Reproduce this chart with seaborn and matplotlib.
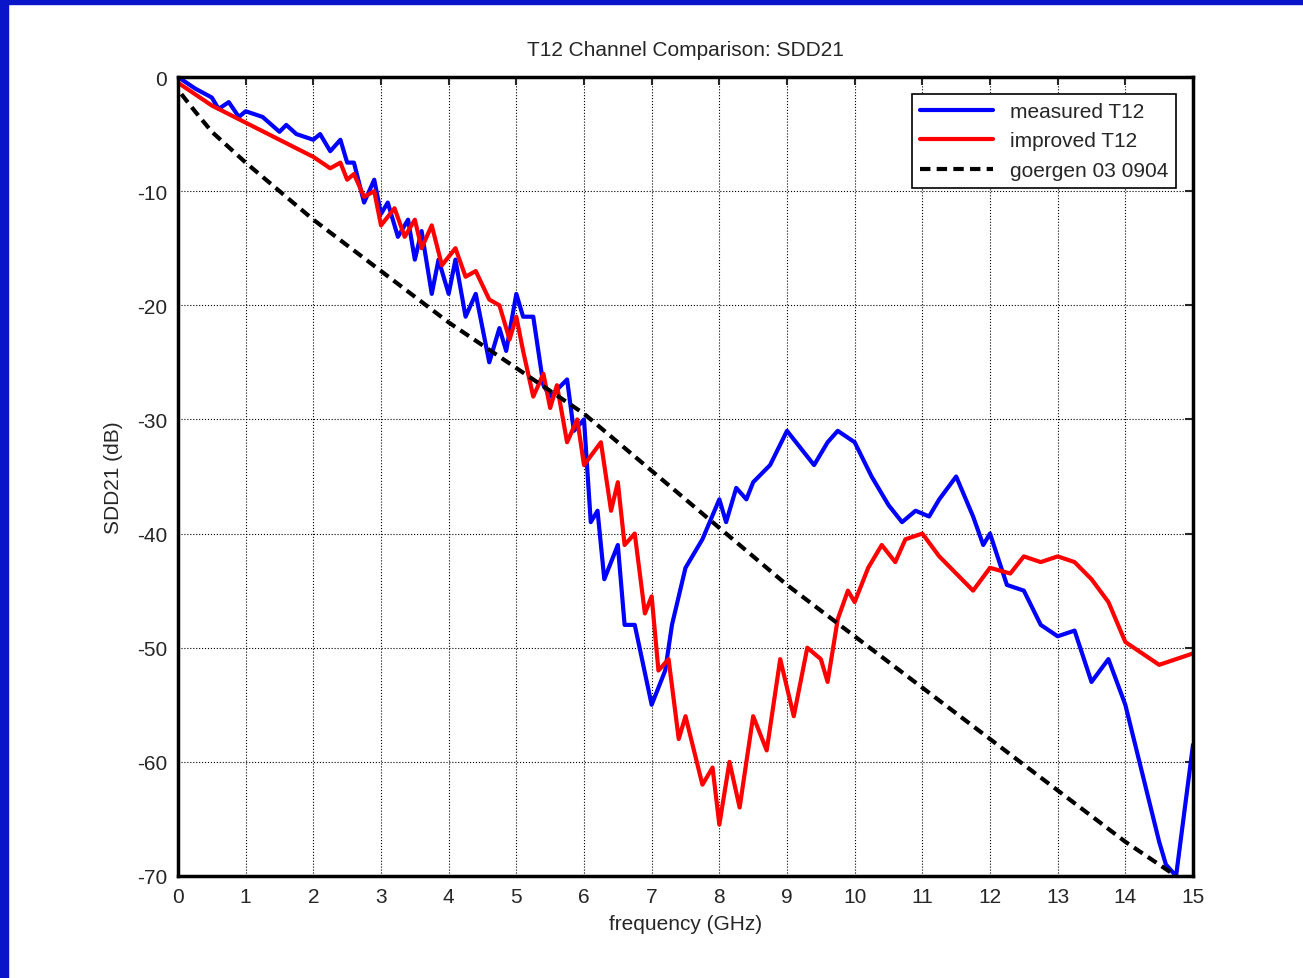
import matplotlib
matplotlib.use("Agg")
import matplotlib.pyplot as plt
import seaborn as sns
import pandas as pd
from matplotlib.patches import Rectangle

sns.set_style("white")
plt.rcParams['font.family'] = ['Liberation Sans', 'DejaVu Sans']
plt.rcParams['axes.unicode_minus'] = False

meas_f = [0,0.25,0.5,0.6,0.75,0.9,1.0,1.25,1.5,1.6,1.75,2,2.1,2.25,2.4,2.5,2.6,2.75,2.9,3.0,3.1,3.25,3.4,3.5,3.6,3.75,3.85,4.0,4.1,4.25,4.4,4.6,4.75,4.85,5.0,5.1,5.25,5.4,5.5,5.75,5.85,6.0,6.1,6.2,6.3,6.5,6.6,6.75,7.0,7.2,7.3,7.5,7.75,8.0,8.1,8.25,8.4,8.5,8.75,9.0,9.2,9.4,9.6,9.75,10.0,10.25,10.5,10.7,10.9,11.1,11.25,11.5,11.75,11.9,12.0,12.25,12.5,12.75,13.0,13.25,13.5,13.75,14.0,14.25,14.5,14.6,14.75,15]
meas_db = [0,-1,-1.8,-2.8,-2.2,-3.5,-3,-3.5,-4.8,-4.2,-5,-5.5,-5,-6.5,-5.5,-7.5,-7.5,-11,-9,-12,-11,-14,-12.5,-16,-13.5,-19,-16,-19,-16,-21,-19,-25,-22,-24,-19,-21,-21,-27,-28,-26.5,-31,-30,-39,-38,-44,-41,-48,-48,-55,-52,-48,-43,-40.5,-37,-39,-36,-37,-35.5,-34,-31,-32.5,-34,-32,-31,-32,-35,-37.5,-39,-38,-38.5,-37,-35,-38.5,-41,-40,-44.5,-45,-48,-49,-48.5,-53,-51,-55,-61,-67,-69,-70,-58.5]

impr_f = [0,0.5,1,1.5,2,2.25,2.4,2.5,2.6,2.75,2.9,3.0,3.2,3.35,3.5,3.6,3.75,3.9,4.1,4.25,4.4,4.6,4.75,4.9,5.0,5.1,5.25,5.4,5.5,5.6,5.75,5.9,6.0,6.25,6.4,6.5,6.6,6.75,6.9,7.0,7.1,7.25,7.4,7.5,7.75,7.9,8.0,8.15,8.3,8.5,8.7,8.9,9.1,9.3,9.5,9.6,9.75,9.9,10.0,10.2,10.4,10.6,10.75,11.0,11.25,11.5,11.75,12.0,12.3,12.5,12.75,13.0,13.25,13.5,13.75,14.0,14.25,14.5,14.75,15]
impr_db = [-0.5,-2.5,-4,-5.5,-7,-8,-7.5,-9,-8.5,-10.5,-10,-13,-11.5,-14,-12.5,-15,-13,-16.5,-15,-17.5,-17,-19.5,-20,-23,-21,-24,-28,-26,-29,-27,-32,-30,-34,-32,-38,-35.5,-41,-40,-47,-45.5,-52,-51,-58,-56,-62,-60.5,-65.5,-60,-64,-56,-59,-51,-56,-50,-51,-53,-47.5,-45,-46,-43,-41,-42.5,-40.5,-40,-42,-43.5,-45,-43,-43.5,-42,-42.5,-42,-42.5,-44,-46,-49.5,-50.5,-51.5,-51,-50.5]

goer_f = [0.05,0.25,0.5,1,2,3,4,5,6,7,8,9,10,11,12,13,14,14.75]
goer_db = [-1.5,-3,-4.8,-7.5,-12.5,-17,-21.5,-25.5,-29.5,-34.5,-39.5,-44.5,-49,-53.5,-58,-62.5,-67,-70]

fig = plt.figure(figsize=(13.03, 9.79), dpi=100)
fig.patches.append(Rectangle((0, 0), 8/1303, 1, transform=fig.transFigure, color='#0a14c8', zorder=0))
fig.patches.append(Rectangle((0, 1-5/979), 1, 5/979, transform=fig.transFigure, color='#0a14c8', zorder=0))
ax = fig.add_axes([178/1303, 1-877/979, (1193-178)/1303, (877-78)/979])

sns.lineplot(x=meas_f, y=meas_db, ax=ax, color='#0000ff', lw=3, label='measured T12', sort=False)
sns.lineplot(x=impr_f, y=impr_db, ax=ax, color='#ff0000', lw=3, label='improved T12', sort=False)
sns.lineplot(x=goer_f, y=goer_db, ax=ax, color='black', lw=3, label='goergen 03 0904', sort=False)
ax.lines[2].set_dashes([2.5, 1.5])

ax.set_xlim(0, 15); ax.set_ylim(-70, 0)
ax.set_xticks(range(0, 16)); ax.set_yticks(range(-70, 1, 10))
ax.grid(True, color='black', ls=':', lw=0.8)
for s in ax.spines.values():
    s.set_color('black'); s.set_linewidth(2.5)
ax.tick_params(direction='in', labelsize=15, length=6, width=1.5, top=True, right=True, pad=8)
ax.set_xlabel('frequency (GHz)', fontsize=15, labelpad=6)
ax.set_ylabel('SDD21 (dB)', fontsize=15, labelpad=10)
ax.set_title('T12 Channel Comparison: SDD21', fontsize=15, pad=16)
leg = ax.legend(loc='upper right', fontsize=15, fancybox=False, framealpha=1, edgecolor='black', handlelength=3.5, borderaxespad=0.8)
leg.get_frame().set_linewidth(1.2)
fig.savefig('out.png', dpi=100)
